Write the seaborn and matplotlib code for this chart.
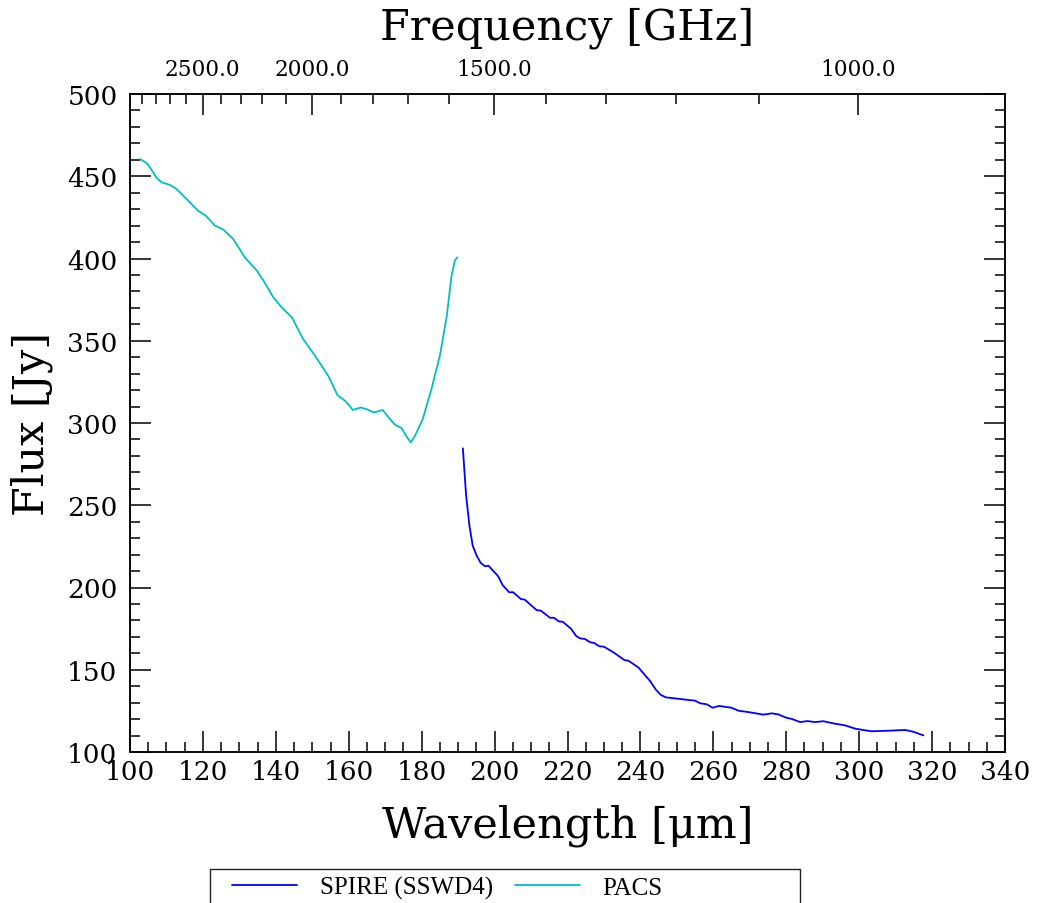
import numpy as np
import pandas as pd
import seaborn as sns
import matplotlib.pyplot as plt
from matplotlib.patches import Rectangle
from matplotlib.ticker import MultipleLocator, FixedLocator

C_UM_GHZ = 299792.458  # lambda[um] = c / f[GHz]

# PACS spectrum
pacs_wave = [102.7, 104.6, 105.9, 107.3, 108.7, 111.0, 112.8, 115.6, 118.7, 120.8,
             123.3, 125.6, 128.3, 131.5, 134.8, 136.6, 139.3, 141.6, 144.4, 147.5,
             150.7, 154.4, 156.9, 159.0, 161.1, 163.3, 164.9, 166.9, 169.3, 171.3,
             172.7, 174.5, 175.7, 177.0, 178.2, 180.3, 182.7, 185.0, 186.9, 188.2,
             189.1, 189.8]
pacs_flux = [460.5, 458.0, 454.0, 449.0, 446.3, 444.7, 442.2, 436.0, 429.0, 426.0,
             420.0, 417.6, 411.9, 400.7, 392.6, 386.6, 376.4, 370.3, 364.2, 351.0,
             341.0, 328.6, 317.0, 313.5, 308.0, 309.4, 308.4, 306.4, 307.9, 302.4,
             298.9, 296.9, 292.3, 288.2, 292.3, 302.4, 320.7, 341.0, 365.3, 389.6,
             398.7, 400.7]

# SPIRE (SSWD4) spectrum
spire_wave = [191.3, 192.2, 193.1, 194.0, 195.1, 196.2, 197.4, 198.3, 199.6, 201.0,
              202.2, 204.0, 205.1, 207.2, 208.3, 211.5, 212.7, 215.2, 216.3, 217.6,
              218.7, 221.0, 222.3, 223.4, 224.8, 226.2, 227.3, 228.7, 230.0, 232.6,
              235.6, 236.7, 239.4, 242.6, 244.3, 245.6, 247.0, 255.0, 256.4, 258.2,
              259.8, 261.6, 265.0, 266.9, 270.1, 273.7, 276.0, 277.8, 279.9, 281.5,
              283.8, 285.8, 287.9, 290.2, 292.9, 296.1, 298.9, 301.1, 303.4, 307.6,
              312.6, 314.9, 317.6]
spire_flux = [284.6, 255.8, 237.6, 225.4, 219.3, 214.9, 212.9, 213.3, 210.2, 206.8,
              201.5, 197.1, 197.1, 193.0, 192.6, 186.3, 185.9, 181.6, 181.6, 179.4,
              179.2, 174.8, 170.7, 169.1, 168.7, 166.7, 166.3, 164.3, 164.0, 160.6,
              155.9, 155.5, 151.5, 143.3, 137.7, 134.7, 133.2, 131.2, 129.6, 129.0,
              126.9, 128.0, 126.9, 125.1, 124.1, 122.7, 123.5, 122.9, 120.9, 120.1,
              118.2, 118.8, 118.2, 118.7, 117.4, 116.2, 114.2, 113.4, 112.6, 112.9,
              113.4, 112.3, 110.1]

freq_major = [2500.0, 2000.0, 1500.0, 1000.0]
freq_minor = [2900, 2800, 2700, 2600, 2400, 2300, 2200, 2100, 1900, 1800, 1700,
              1600, 1400, 1300, 1200, 1100]

sns.set_style("ticks")
plt.rcParams['font.family'] = ['DejaVu Serif']
plt.rcParams['text.color'] = 'black'
plt.rcParams['axes.labelcolor'] = 'black'

fig = plt.figure(figsize=(10.37, 9.04), dpi=100)
ax = fig.add_axes([130 / 1037, 1 - 753 / 904, 875 / 1037, 658 / 904])

spire = pd.DataFrame({"wave": spire_wave, "flux": spire_flux})
pacs = pd.DataFrame({"wave": pacs_wave, "flux": pacs_flux})
sns.lineplot(data=spire, x="wave", y="flux", ax=ax, color="#0000ff", lw=1.3,
             sort=False, estimator=None, label="SPIRE (SSWD4)")
sns.lineplot(data=pacs, x="wave", y="flux", ax=ax, color="c", lw=1.3,
             sort=False, estimator=None, label="PACS")
handles, labels = ax.get_legend_handles_labels()
if ax.get_legend() is not None:
    ax.get_legend().remove()

ax.set_xlim(100, 340)
ax.set_ylim(100, 500)
ax.xaxis.set_major_locator(MultipleLocator(20))
ax.xaxis.set_minor_locator(MultipleLocator(5))
ax.yaxis.set_major_locator(MultipleLocator(50))
ax.yaxis.set_minor_locator(MultipleLocator(10))
ax.tick_params(which='both', direction='in', right=True, top=False, width=1.1, colors='black')
ax.tick_params(which='major', length=15)
ax.tick_params(which='minor', length=7.5)
ax.tick_params(axis='x', labelsize=19, pad=5)
ax.tick_params(axis='y', labelsize=19, pad=9)
for sp in ax.spines.values():
    sp.set_linewidth(1.1)
    sp.set_color('black')

ax.set_xlabel("Wavelength [μm]", fontsize=31, labelpad=14, color='black')
ax.set_ylabel("Flux [Jy]", fontsize=31, labelpad=10, color='black')

# top axis in frequency
ax2 = ax.twiny()
ax2.set_xlim(ax.get_xlim())
ax2.xaxis.set_major_locator(FixedLocator([C_UM_GHZ / f for f in freq_major]))
ax2.xaxis.set_minor_locator(FixedLocator([C_UM_GHZ / f for f in freq_minor]))
ax2.set_xticklabels([f"{f:.1f}" for f in freq_major])
ax2.tick_params(which='both', direction='in', width=1.1, colors='black')
ax2.tick_params(which='major', length=15, labelsize=15.6, pad=10)
ax2.tick_params(which='minor', length=7.5)
for sp in ax2.spines.values():
    sp.set_linewidth(1.1)
    sp.set_color('black')
ax2.set_xlabel("Frequency [GHz]", fontsize=31, labelpad=14, color='black')

fig.legend(handles, labels, loc='upper left', bbox_to_anchor=(232 / 1037, 1 - 877 / 904),
           ncol=2, frameon=False, prop={'family': 'Liberation Serif', 'size': 18},
           labelcolor='black', handlelength=2.6, handletextpad=0.9, columnspacing=0.9,
           borderpad=0, borderaxespad=0)
fig.patches.append(Rectangle((210 / 1037, -0.1), 590 / 1037, 0.1 + (904 - 870) / 904,
                             transform=fig.transFigure, fill=False, lw=1.0, ec='#222222'))

fig.savefig("out.png", dpi=100)
